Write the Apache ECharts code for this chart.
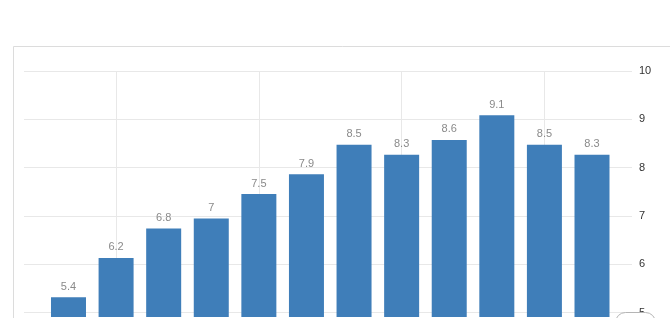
<!DOCTYPE html>
<html>
<head>
<meta charset="utf-8">
<script src="https://cdn.jsdelivr.net/npm/echarts@6/dist/echarts.min.js"></script>
<style>
html,body{margin:0;padding:0;background:#fff;}
#c{width:670px;height:318px;}
</style>
</head>
<body>
<div id="c"></div>
<script>
const categories = ['2010','2011','2012','2013','2014','2015','2016','2017','2018','2019','2020','2021'];
const values = [5.4, 6.2, 6.8, 7, 7.5, 7.9, 8.5, 8.3, 8.6, 9.1, 8.5, 8.3];
const yTicks = [5, 6, 7, 8, 9, 10];
const gridCategories = ['2011','2014','2017','2020'];

const chart = echarts.init(document.getElementById('c'), null, {renderer: 'canvas'});
const font = 'Arial, "Liberation Sans", sans-serif';
chart.setOption({
  animation: false,
  backgroundColor: '#fff',
  graphic: [
    {type: 'rect', shape: {x: 13.5, y: 46.5, width: 700, height: 320}, style: {fill: 'none', stroke: '#dcdcdc', lineWidth: 1}, z: -1},
    {type: 'rect', shape: {x: 615.5, y: 312.5, width: 40, height: 24, r: 10}, style: {fill: '#fff', stroke: '#b5b5b5', lineWidth: 1}, z: 5}
  ],
  grid: [
    {left: 24, right: 38, top: 71, bottom: 1},
    {left: 44.7, right: 54.2, top: 71, bottom: 1}
  ],
  xAxis: [
    {type: 'value', gridIndex: 0, show: false},
    {type: 'category', gridIndex: 1, data: categories, show: false, boundaryGap: true}
  ],
  yAxis: [
    {type: 'value', gridIndex: 0, position: 'right', min: yTicks[0], max: yTicks[yTicks.length-1], interval: 1,
     axisLine: {show: false}, axisTick: {show: false},
     axisLabel: {color: '#333', fontSize: 11, margin: 7, fontFamily: font},
     splitLine: {show: true, lineStyle: {color: '#e8e8e8', width: 1}}},
    {type: 'value', gridIndex: 1, min: yTicks[0], max: yTicks[yTicks.length-1], show: false, splitLine: {show: false}}
  ],
  series: [
    {type: 'line', xAxisIndex: 1, yAxisIndex: 1, data: [], z: 1, silent: true,
     markLine: {silent: true, z: 1, symbol: 'none', label: {show: false},
       lineStyle: {color: '#e8e8e8', type: 'solid', width: 1},
       data: gridCategories.map(c => ({xAxis: c}))}},
    {type: 'bar', xAxisIndex: 1, yAxisIndex: 1, data: values, barWidth: 35, z: 3,
     itemStyle: {color: '#3f7eb9'},
     label: {show: true, position: 'top', distance: 5, color: '#8a8a8a', fontSize: 11, fontFamily: font}}
  ]
});
</script>
</body>
</html>
